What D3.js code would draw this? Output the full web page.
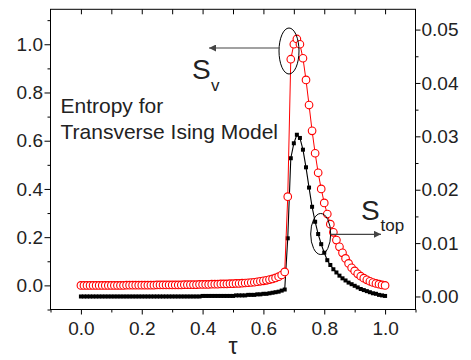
<!DOCTYPE html>
<html>
<head>
<meta charset="utf-8">
<script src="https://cdn.jsdelivr.net/npm/d3@7"></script>
<style>
html,body{margin:0;padding:0;background:#fff;}
svg{display:block;font-family:"Liberation Sans",Arial,Helvetica,sans-serif;}
</style>
</head>
<body>
<svg id="chart" width="471" height="360"></svg>
<script>
// ---- data ----
const tau = [0.00,0.01,0.02,0.03,0.04,0.05,0.06,0.07,0.08,0.09,
  0.10,0.11,0.12,0.13,0.14,0.15,0.16,0.17,0.18,0.19,
  0.20,0.21,0.22,0.23,0.24,0.25,0.26,0.27,0.28,0.29,
  0.30,0.31,0.32,0.33,0.34,0.35,0.36,0.37,0.38,0.39,
  0.40,0.41,0.42,0.43,0.44,0.45,0.46,0.47,0.48,0.49,
  0.50,0.51,0.52,0.53,0.54,0.55,0.56,0.57,0.58,0.59,
  0.60,0.61,0.62,0.63,0.64,0.65,0.66,0.67,0.68,0.69,
  0.70,0.71,0.72,0.73,0.74,0.75,0.76,0.77,0.78,0.79,
  0.80,0.81,0.82,0.83,0.84,0.85,0.86,0.87,0.88,0.89,
  0.90,0.91,0.92,0.93,0.94,0.95,0.96,0.97,0.98,0.99,1.00];

// S_v (left axis, red open circles)
const sv = [0,0,0,0,0,0,0,0,0,0,
  0,0,0,0,0,0.001,0.001,0.001,0.001,0.001,
  0.001,0.001,0.001,0.001,0.001,0.002,0.002,0.002,0.002,0.002,
  0.002,0.002,0.002,0.002,0.003,0.003,0.003,0.003,0.003,0.004,
  0.004,0.004,0.004,0.005,0.005,0.005,0.006,0.006,0.006,0.007,
  0.007,0.008,0.008,0.009,0.010,0.011,0.012,0.013,0.015,0.017,
  0.019,0.021,0.024,0.027,0.031,0.036,0.043,0.056,0.368,0.938,
  1.000,1.022,1.000,0.942,0.852,0.748,0.641,0.548,0.467,0.400,
  0.342,0.296,0.254,0.220,0.188,0.160,0.135,0.112,0.091,0.073,
  0.060,0.048,0.038,0.030,0.023,0.017,0.012,0.008,0.005,0.002,0.000];

// S_top (right axis, black squares)
const stop = [0,0,0,0,0,0,0,0,0,0,
  0,0,0,0,0,0,0,0,0,0,
  0,0,0,0,0,0,0,0,0,0,
  0,0,0,0,0,0,0,0,0,0,
  0.0001,0.0001,0.0001,0.0001,0.0001,0.0001,0.0001,0.0001,0.0001,0.0001,
  0.0001,0.0002,0.0002,0.0002,0.0002,0.0003,0.0003,0.0003,0.0004,0.0004,
  0.0005,0.0005,0.0006,0.0007,0.0008,0.0009,0.0011,0.0013,0.0109,0.0259,
  0.0287,0.0303,0.0297,0.0275,0.0242,0.0204,0.0168,0.0140,0.0117,0.0098,
  0.0082,0.0068,0.0059,0.0051,0.0045,0.0039,0.0034,0.0030,0.0026,0.0023,
  0.0020,0.0017,0.0014,0.0012,0.0010,0.0008,0.0006,0.0005,0.0003,0.0002,0.0001];

const xTicks = [0.0,0.2,0.4,0.6,0.8,1.0];
const xMinor = [-0.1,0.1,0.3,0.5,0.7,0.9,1.1];
const xTop = [0.0,0.1,0.2,0.3,0.4,0.5,0.6,0.7,0.8,0.9,1.0];
const yLeftTicks = [0.0,0.2,0.4,0.6,0.8,1.0];
const yLeftMinor = [-0.1,0.1,0.3,0.5,0.7,0.9,1.1];
const yRightTicks = [0.00,0.01,0.02,0.03,0.04,0.05];
const yRightMinor = [0.005,0.015,0.025,0.035,0.045];

// ---- layout ----
const L = 50.5, R = 415.5, T = 9.3, B = 309.5;
const svg = d3.select("#chart");
const textColor = "#222";

const x = d3.scaleLinear().domain([-0.1, 1.1]).range([L, R]);
const yL = d3.scaleLinear().domain([-0.1, 1.145]).range([B, T]);
const yR = d3.scaleLinear().domain([-0.00244, 0.0538]).range([B, T]);

const defs = svg.append("defs");
defs.append("marker").attr("id","arrow").attr("viewBox","0 0 10 10")
  .attr("refX",10).attr("refY",5).attr("markerWidth",8).attr("markerHeight",7)
  .attr("markerUnits","userSpaceOnUse").attr("orient","auto")
  .append("path").attr("d","M0,0 L10,5 L0,10 Z").attr("fill","#444");

// ---- series ----
const dataV = tau.map((t,i)=>({t, v: sv[i]}));
const dataT = tau.map((t,i)=>({t, v: stop[i]}));

const lineT = d3.line().x(d=>x(d.t)).y(d=>yR(d.v));
svg.append("path").datum(dataT).attr("d", lineT)
  .attr("fill","none").attr("stroke","#000").attr("stroke-width",1.1);
svg.append("g").selectAll("rect").data(dataT).join("rect")
  .attr("x", d=>x(d.t)-2).attr("y", d=>yR(d.v)-2)
  .attr("width",4).attr("height",4).attr("fill","#000");

const lineV = d3.line().x(d=>x(d.t)).y(d=>yL(d.v));
svg.append("path").datum(dataV).attr("d", lineV)
  .attr("fill","none").attr("stroke","#f00").attr("stroke-width",1);
svg.append("g").selectAll("circle").data(dataV).join("circle")
  .attr("cx", d=>x(d.t)).attr("cy", d=>yL(d.v)).attr("r",3.8)
  .attr("fill","#fff").attr("stroke","#f00").attr("stroke-width",1.1);

// ---- axes ----
function style(g){
  g.select(".domain").remove();
  g.selectAll(".tick line").attr("stroke","#000").attr("stroke-width",1);
  g.selectAll(".tick text").attr("fill",textColor).style("font-size","19px")
    .style("font-family",'"Liberation Sans",Arial,sans-serif');
}
svg.append("g").attr("transform",`translate(0,${B})`)
  .call(d3.axisBottom(x).tickValues(xTicks).tickFormat(d3.format(".1f")).tickSizeInner(5).tickSizeOuter(0).tickPadding(7)).call(style);
svg.append("g").attr("transform",`translate(0,${B})`)
  .call(d3.axisBottom(x).tickValues(xMinor).tickFormat("").tickSizeInner(3).tickSizeOuter(0)).call(style);
svg.append("g").attr("transform",`translate(0,${T})`)
  .call(d3.axisBottom(x).tickValues(xTop).tickFormat("").tickSizeInner(5).tickSizeOuter(0)).call(style);
svg.append("g").attr("transform",`translate(${L},0)`)
  .call(d3.axisLeft(yL).tickValues(yLeftTicks).tickFormat(d3.format(".1f")).tickSizeInner(6).tickSizeOuter(0).tickPadding(1.5)).call(style);
svg.append("g").attr("transform",`translate(${L},0)`)
  .call(d3.axisLeft(yL).tickValues(yLeftMinor).tickFormat("").tickSizeInner(3).tickSizeOuter(0)).call(style);
svg.append("g").attr("transform",`translate(${R},0)`)
  .call(d3.axisRight(yR).tickValues(yRightTicks).tickFormat(d3.format(".2f")).tickSizeInner(5).tickSizeOuter(0).tickPadding(1)).call(style);
svg.append("g").attr("transform",`translate(${R},0)`)
  .call(d3.axisRight(yR).tickValues(yRightMinor).tickFormat("").tickSizeInner(3).tickSizeOuter(0)).call(style);

svg.append("rect").attr("x",L).attr("y",T).attr("width",R-L).attr("height",B-T)
  .attr("fill","none").attr("stroke","#000").attr("stroke-width",1);

// axis title
svg.append("text").attr("x",x(0.5)).attr("y",354).attr("text-anchor","middle")
  .attr("fill",textColor).style("font-size","23px").text("τ");

// ---- annotations ----
svg.append("text").attr("x",60.5).attr("y",113).attr("fill",textColor)
  .style("font-size","21px").text("Entropy for");
svg.append("text").attr("x",60.5).attr("y",139).attr("fill",textColor)
  .style("font-size","21px").text("Transverse Ising Model");

// S_v
svg.append("ellipse").attr("cx",289).attr("cy",51).attr("rx",10).attr("ry",23)
  .attr("fill","none").attr("stroke","#000").attr("stroke-width",1);
svg.append("line").attr("x1",279).attr("y1",48).attr("x2",209).attr("y2",48)
  .attr("stroke","#444").attr("stroke-width",1.2).attr("marker-end","url(#arrow)");
svg.append("text").attr("x",192).attr("y",79).attr("fill",textColor)
  .style("font-size","28px").text("S");
svg.append("text").attr("x",211).attr("y",91).attr("fill",textColor)
  .style("font-size","17px").text("v");

// S_top
svg.append("ellipse").attr("cx",320.7).attr("cy",234).attr("rx",10).attr("ry",20.5)
  .attr("fill","none").attr("stroke","#000").attr("stroke-width",1);
svg.append("line").attr("x1",330.7).attr("y1",234.3).attr("x2",381).attr("y2",234.3)
  .attr("stroke","#444").attr("stroke-width",1.2).attr("marker-end","url(#arrow)");
svg.append("text").attr("x",361).attr("y",220).attr("fill",textColor)
  .style("font-size","28px").text("S");
svg.append("text").attr("x",380.5).attr("y",230.5).attr("fill",textColor)
  .style("font-size","17px").text("top");
</script>
</body>
</html>
